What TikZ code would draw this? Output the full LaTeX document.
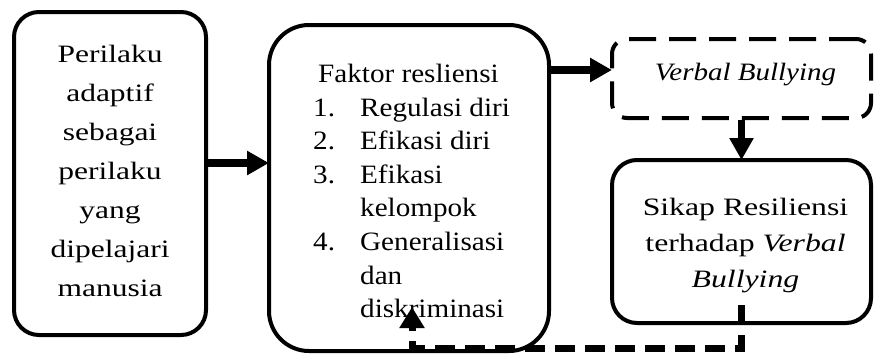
\documentclass[tikz,border=0pt]{standalone}
\usepackage{fontspec}
\setmainfont{Liberation Serif}
\usetikzlibrary{arrows.meta}
\begin{document}
\begin{tikzpicture}[x=1pt,y=-1pt,
  box/.style={draw, line width=4pt, rounded corners=#1, inner sep=0pt, fill=white},
  box/.default=25pt,
  txt/.style={transform shape, inner sep=0pt},
  arr/.style={line width=7.5pt, -{Triangle[length=22pt,width=23pt]}},
  fb/.style={line width=7pt, dash pattern=on 20pt off 10pt, -{Triangle[length=21pt,width=24pt]}}]
\useasboundingbox (0,0) rectangle (874,356);
% boxes
\node[box=25pt, minimum width=192pt, minimum height=323pt] (left) at (110,173.5) {};
\node[box=40pt, minimum width=280pt, minimum height=326pt] (mid) at (409,188) {};
\node[draw, line width=4pt, rounded corners=15pt, dash pattern=on 27pt off 13pt,
      minimum width=259pt, minimum height=79pt, inner sep=0pt] (verbal) at (741.5,78.5) {};
\node[box=25pt, minimum width=259pt, minimum height=163pt] (sikap) at (741.5,241.5) {};
% texts (horizontally stretched like the reference)
\begin{scope}[shift={(110,171)}, xscale=1.26]
\node[txt, align=center, font={\fontsize{25pt}{39pt}\selectfont}] (lefttext) at (0,0)
  {Perilaku\\adaptif\\sebagai\\perilaku\\yang\\dipelajari\\manusia};
\end{scope}
\begin{scope}[shift={(313,64)}, xscale=1.1]
\node[txt, anchor=north west, align=left, font={\fontsize{26.5pt}{33.6pt}\selectfont}] (midtext) at (0,0)
  {\hspace*{4.5pt}Faktor resliensi\\
   \makebox[42.7pt][l]{1.}Regulasi diri\\
   \makebox[42.7pt][l]{2.}Efikasi diri\\
   \makebox[42.7pt][l]{3.}Efikasi\\
   \hspace*{42.7pt}kelompok\\
   \makebox[42.7pt][l]{4.}Generalisasi\\
   \hspace*{42.7pt}dan\\
   \hspace*{42.7pt}diskriminasi};
\end{scope}
\begin{scope}[shift={(745.5,75)}, xscale=1.16]
\node[txt, font={\fontsize{25pt}{30pt}\selectfont\itshape}] (verbaltext) at (0,0) {Verbal Bullying};
\end{scope}
\begin{scope}[shift={(745.5,246)}, xscale=1.27]
\node[txt, align=center, font={\fontsize{25pt}{36pt}\selectfont}] (sikaptext) at (0,0)
  {Sikap Resiliensi\\terhadap \textit{Verbal}\\\textit{Bullying}};
\end{scope}
% connectors
\draw[arr, shorten >=-2pt] ([yshift=10.5pt]left.east) -- ([yshift=10.5pt]left.east -| mid.west);
\draw[arr, shorten >=-2pt] ([yshift=8.5pt]verbal.west -| mid.east) -- ([yshift=8.5pt]verbal.west);
\draw[arr, shorten >=-2pt] (verbal.south) -- (sikap.north);
\coordinate (fbturn) at (412,348);
\coordinate (fbend) at (412,307);
\draw[fb] ([yshift=20pt]sikap.south) |- (fbturn) -- (fbend);
\end{tikzpicture}
\end{document}
